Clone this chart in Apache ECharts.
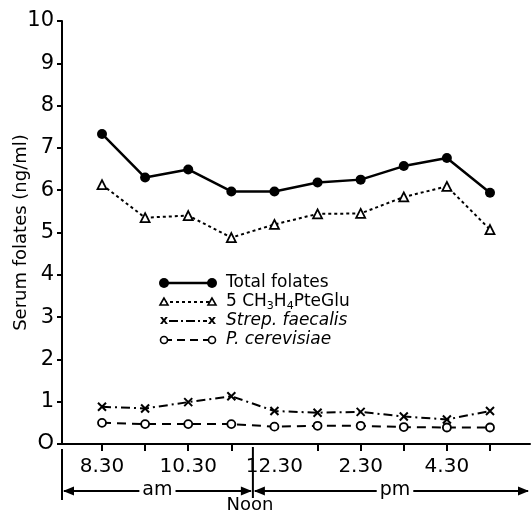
<!DOCTYPE html>
<html><head><meta charset="utf-8">
<script src="https://cdn.jsdelivr.net/npm/echarts@6/dist/echarts.min.js"></script>
<style>html,body{margin:0;padding:0;background:#fff}#c{width:531px;height:513px}</style>
</head><body><div id="c"></div>
<script>
const hours = [8.5, 9.5, 10.5, 11.5, 12.5, 13.5, 14.5, 15.5, 16.5, 17.5];
const tickHours = [8.5, 9.5, 10.5, 11.5, 13.5, 14.5, 15.5, 16.5, 17.5];
const labelHours = [8.5, 10.5, 12.5, 14.5, 16.5];
const labelTexts = ['8.30', '10.30', '12.30', '2.30', '4.30'];
const totalFolates = [7.33, 6.30, 6.49, 5.97, 5.97, 6.18, 6.25, 6.57, 6.76, 5.94];
const methylFolate = [6.13, 5.35, 5.40, 4.88, 5.19, 5.44, 5.45, 5.84, 6.09, 5.07];
const strepFaecalis = [0.88, 0.84, 0.99, 1.13, 0.78, 0.74, 0.76, 0.65, 0.58, 0.78];
const pCerevisiae = [0.50, 0.47, 0.47, 0.47, 0.41, 0.43, 0.43, 0.40, 0.39, 0.39];

const FONT = 'DejaVu Sans';
const crossPath = 'path://M0,0L10,10M10,0L0,10';
const pairs = arr => hours.map((h, i) => [h, arr[i]]);

const chart = echarts.init(document.getElementById('c'));
const option = {
  animation: false,
  backgroundColor: '#fff',
  grid: { left: 62, right: 1, top: 21, bottom: 69, containLabel: false, outerBoundsMode: 'none' },
  xAxis: {
    type: 'value', min: 7.572, max: 18.428,
    axisLine: { show: true, onZero: false, lineStyle: { color: '#000', width: 2 } },
    axisTick: { show: true, customValues: tickHours, length: 7, lineStyle: { color: '#000', width: 2 } },
    axisLabel: {
      customValues: labelHours, color: '#000', fontSize: 20, fontFamily: FONT, margin: 13,
      formatter: v => { const i = labelHours.indexOf(v); return i >= 0 ? labelTexts[i] : ''; }
    },
    splitLine: { show: false }
  },
  yAxis: {
    type: 'value', min: 0, max: 10, interval: 1,
    name: 'Serum folates (ng/ml)', nameLocation: 'middle', nameGap: 32, nameMoveOverlap: false,
    nameTextStyle: { color: '#000', fontSize: 18, fontFamily: FONT },
    axisLine: { show: true, lineStyle: { color: '#000', width: 2 } },
    axisTick: { show: true, length: 5, lineStyle: { color: '#000', width: 2 } },
    axisLabel: { color: '#000', fontSize: 21, fontFamily: FONT, margin: 8,
      formatter: v => v === 0 ? 'O' : String(v) },
    splitLine: { show: false }
  },
  series: [
    { name: 'Total folates', type: 'line', data: pairs(totalFolates),
      symbol: 'circle', symbolSize: 10,
      lineStyle: { color: '#000', width: 2.5 }, itemStyle: { color: '#000' } },
    { name: '5 CH3H4PteGlu', type: 'line', data: pairs(methylFolate),
      symbol: 'triangle', symbolSize: 9,
      lineStyle: { color: '#000', width: 2, type: [3, 3] },
      itemStyle: { color: '#fff', borderColor: '#000', borderWidth: 1.8 } },
    { name: 'Strep. faecalis', type: 'line', data: pairs(strepFaecalis),
      symbol: crossPath, symbolSize: 8,
      lineStyle: { color: '#000', width: 2, type: [9, 4, 2, 4] },
      itemStyle: { color: '#000', borderColor: '#000', borderWidth: 2 } },
    { name: 'P. cerevisiae', type: 'line', data: pairs(pCerevisiae),
      symbol: 'circle', symbolSize: 8,
      lineStyle: { color: '#000', width: 2, type: [9, 6] },
      itemStyle: { color: '#fff', borderColor: '#000', borderWidth: 1.8 } }
  ]
};
chart.setOption(option);

const noonX = chart.convertToPixel({ xAxisIndex: 0 }, 12);
const axisY = chart.convertToPixel({ yAxisIndex: 0 }, 0);
const leftX = chart.convertToPixel({ xAxisIndex: 0 }, 7.572);
const rightX = chart.convertToPixel({ xAxisIndex: 0 }, 18.428);
const arrowY = 491;
const stroke = { stroke: '#000', lineWidth: 2 };
function arrowHead(x, dir) {
  return { type: 'polygon', shape: { points: [[x, arrowY], [x + dir * 11, arrowY - 4.5], [x + dir * 11, arrowY + 4.5]] }, style: { fill: '#000' } };
}
const lx = 164, lx2 = 212, tx = 226;
const rows = [283, 302, 321, 340];
const LF = '17px "' + FONT + '"';
const legendItems = [
  { type: 'line', shape: { x1: lx, y1: rows[0], x2: lx2, y2: rows[0] }, style: { stroke: '#000', lineWidth: 2.5 } },
  { type: 'circle', shape: { cx: lx, cy: rows[0], r: 5 }, style: { fill: '#000' } },
  { type: 'circle', shape: { cx: lx2, cy: rows[0], r: 5 }, style: { fill: '#000' } },
  { type: 'text', style: { x: tx, y: rows[0], text: 'Total folates', font: LF, fill: '#000', verticalAlign: 'middle' } },

  { type: 'line', shape: { x1: lx, y1: rows[1], x2: lx2, y2: rows[1] }, style: { stroke: '#000', lineWidth: 2, lineDash: [3, 3] } },
  { type: 'polygon', shape: { points: [[lx, rows[1] - 4], [lx - 4, rows[1] + 3], [lx + 4, rows[1] + 3]] }, style: { fill: '#fff', stroke: '#000', lineWidth: 1.6 } },
  { type: 'polygon', shape: { points: [[lx2, rows[1] - 4], [lx2 - 4, rows[1] + 3], [lx2 + 4, rows[1] + 3]] }, style: { fill: '#fff', stroke: '#000', lineWidth: 1.6 } },
  { type: 'text', style: { x: tx, y: rows[1], text: '5 CH{s|3}H{s|4}PteGlu', font: LF, fill: '#000', verticalAlign: 'middle',
      rich: { s: { fontSize: 11, fontFamily: FONT, padding: [9, 0, 0, 0] } } } },

  { type: 'line', shape: { x1: lx + 5, y1: rows[2], x2: lx2 - 5, y2: rows[2] }, style: { stroke: '#000', lineWidth: 2, lineDash: [9, 3, 2, 3] } },
  { type: 'text', style: { x: lx, y: rows[2], text: 'x', font: 'bold 13px "' + FONT + '"', fill: '#000', align: 'center', verticalAlign: 'middle' } },
  { type: 'text', style: { x: lx2, y: rows[2], text: 'x', font: 'bold 13px "' + FONT + '"', fill: '#000', align: 'center', verticalAlign: 'middle' } },
  { type: 'text', style: { x: tx, y: rows[2], text: 'Strep. faecalis', font: 'italic ' + LF, fill: '#000', verticalAlign: 'middle' } },

  { type: 'line', shape: { x1: lx, y1: rows[3], x2: lx2, y2: rows[3] }, style: { stroke: '#000', lineWidth: 2, lineDash: [8, 5] } },
  { type: 'circle', shape: { cx: lx, cy: rows[3], r: 3.5 }, style: { fill: '#fff', stroke: '#000', lineWidth: 1.6 } },
  { type: 'circle', shape: { cx: lx2, cy: rows[3], r: 3.5 }, style: { fill: '#fff', stroke: '#000', lineWidth: 1.6 } },
  { type: 'text', style: { x: tx, y: rows[3], text: 'P. cerevisiae', font: 'italic ' + LF, fill: '#000', verticalAlign: 'middle' } }
];

chart.setOption({
  graphic: [
    { type: 'line', shape: { x1: leftX, y1: axisY + 5, x2: leftX, y2: 500 }, style: stroke },
    { type: 'line', shape: { x1: noonX, y1: axisY + 3, x2: noonX, y2: 498 }, style: stroke },
    { type: 'line', shape: { x1: leftX + 2, y1: arrowY, x2: noonX - 2, y2: arrowY }, style: stroke },
    { type: 'line', shape: { x1: noonX + 2, y1: arrowY, x2: rightX - 2, y2: arrowY }, style: stroke },
    arrowHead(leftX + 1, 1), arrowHead(noonX - 1, -1), arrowHead(noonX + 1, 1), arrowHead(rightX - 1, -1),
    { type: 'text', style: { x: (leftX + noonX) / 2, y: arrowY - 1, text: 'am', font: '19px "' + FONT + '"', fill: '#000', align: 'center', verticalAlign: 'middle', backgroundColor: '#fff', padding: [0, 3] } },
    { type: 'text', style: { x: 395, y: arrowY - 1, text: 'pm', font: '19px "' + FONT + '"', fill: '#000', align: 'center', verticalAlign: 'middle', backgroundColor: '#fff', padding: [0, 3] } },
    { type: 'text', style: { x: noonX - 3, y: 505, text: 'Noon', font: '18px "' + FONT + '"', fill: '#000', align: 'center', verticalAlign: 'middle' } }
  ].concat(legendItems)
});
</script></body></html>
